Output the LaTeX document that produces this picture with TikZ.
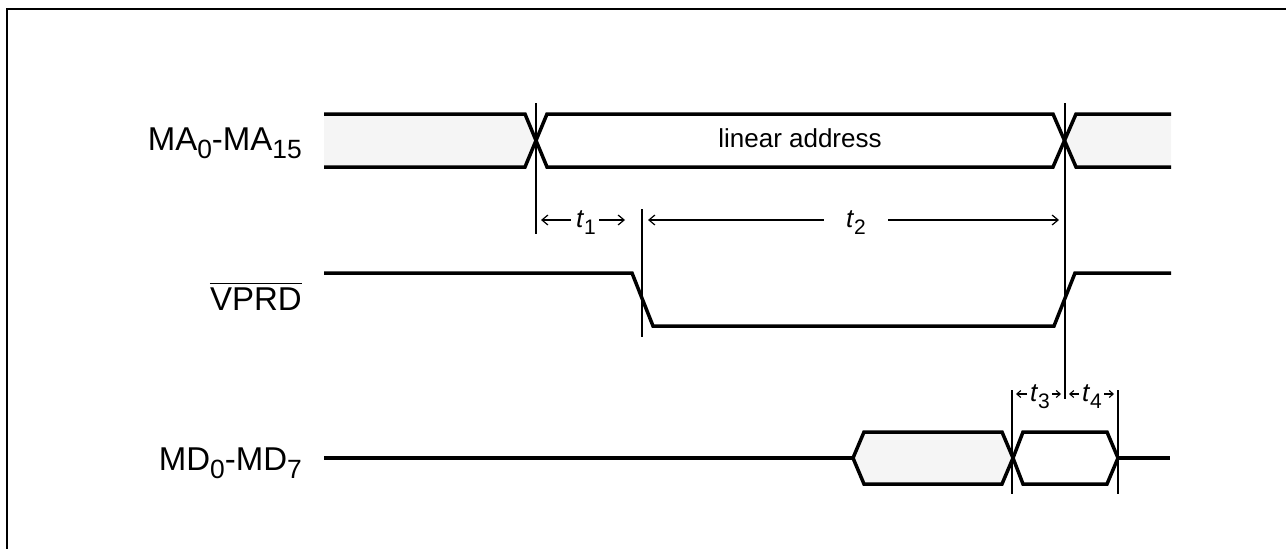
\documentclass[tikz,border=0pt]{standalone}
\usepackage{fontspec}
\setmainfont{Liberation Sans}
\usetikzlibrary{arrows.meta}
\definecolor{busgray}{HTML}{F5F5F5}
\newcommand{\lsub}[1]{\raisebox{-0.27em}{\fontsize{26.4}{28}\selectfont #1}}
\newcommand{\tsub}[1]{\raisebox{-0.27em}{\fontsize{21}{23}\selectfont #1}}
\newcommand{\tlab}[1]{\fontsize{26}{28}\selectfont\textit{t}\tsub{#1}}
\begin{document}
\begin{tikzpicture}[x=1pt,y=-1pt,
  sig/.style={line width=3.5pt,line join=miter},
  mark line/.style={line width=1.4pt},
  frame line/.style={line width=2.4pt},
  siglabel/.style={inner sep=0pt,anchor=base east,font=\fontsize{33}{36}\selectfont},
  tlabel/.style={inner sep=0pt,anchor=center},
  dimarrow/.style={line width=1.2pt,-{Straight Barb[length=6pt,width=10pt,line width=1.2pt]}},
  smallarrow/.style={line width=1.1pt,-{Straight Barb[length=4pt,width=7pt,line width=1.1pt]}}]
\useasboundingbox (0,0) rectangle (1286,549);
% frame
\draw[frame line] (7,549) -- (7,9) -- (1286,9);

% labels
\node[siglabel] (ma) at (302,150) {MA\lsub{0}-MA\lsub{15}};
\node[siglabel] (vprd) at (302,310) {VPRD};
\draw[line width=1.5pt] ([yshift=3.5pt]vprd.north west) -- ([yshift=3.5pt]vprd.north east);
\node[siglabel] (md) at (302,470) {MD\lsub{0}-MD\lsub{7}};

% MA bus
\fill[busgray] (324,114) -- (525,114) -- (536,140.5) -- (525,167) -- (324,167) -- cycle;
\fill[busgray] (1171,114) -- (1076,114) -- (1064.5,140.5) -- (1076,167) -- (1171,167) -- cycle;
\draw[sig] (324,114) -- (525,114) -- (547,167) -- (1053,167) -- (1076,114) -- (1171,114);
\draw[sig] (324,167) -- (525,167) -- (547,114) -- (1053,114) -- (1076,167) -- (1171,167);
\node[inner sep=0pt,anchor=base,font=\fontsize{26}{28}\selectfont] (la) at (800,147) {linear address};

% VPRD
\draw[sig] (324,273) -- (632,273) -- (653,326) -- (1054,326) -- (1075,273) -- (1171,273);

% MD bus
\draw[sig] (324,458) -- (853,458);
\draw[sig,fill=busgray] (853,458) -- (864,432) -- (1002,432) -- (1013,458) -- (1002,484) -- (864,484) -- cycle;
\draw[sig,fill=white] (1013,458) -- (1023,432) -- (1107,432) -- (1118,458) -- (1107,484) -- (1023,484) -- cycle;
\draw[sig] (1118,458) -- (1170,458);

% timing marker lines
\coordinate (v1t) at (536,103); \coordinate (v1b) at (536,234);
\coordinate (v2t) at (642,209); \coordinate (v2b) at (642,337);
\coordinate (v3t) at (1065,103); \coordinate (v3b) at (1065,399);
\coordinate (v4t) at (1012,390); \coordinate (v4b) at (1012,494);
\coordinate (v5t) at (1118,390); \coordinate (v5b) at (1118,494);
\draw[mark line] (v1t) -- (v1b);
\draw[mark line] (v2t) -- (v2b);
\draw[mark line] (v3t) -- (v3b);
\draw[mark line] (v4t) -- (v4b);
\draw[mark line] (v5t) -- (v5b);

% t1, t2
\node[tlabel] (t1) at (586,223) {\tlab{1}};
\node[tlabel] (t2) at (856,223) {\tlab{2}};
\coordinate (a1l) at (541,220); \coordinate (a1r) at (625,220);
\coordinate (a2l) at (648,220); \coordinate (a2r) at (1059,220);
\draw[dimarrow] (t1.west |- a1l) ++(-5,0) coordinate (t1w) -- (a1l);
\draw[dimarrow] (t1.east |- a1r) ++(3,0) coordinate (t1e) -- (a1r);
\draw[dimarrow] (t2.west |- a2l) ++(-22,0) coordinate (t2w) -- (a2l);
\draw[dimarrow] (t2.east |- a2r) ++(22,0) coordinate (t2e) -- (a2r);

% t3, t4
\node[tlabel] (t3) at (1040,397) {\tlab{3}};
\node[tlabel] (t4) at (1092,397) {\tlab{4}};
\coordinate (a3l) at (1016,394); \coordinate (a3r) at (1061,394);
\coordinate (a4l) at (1069,394); \coordinate (a4r) at (1114,394);
\draw[smallarrow] (1027,394) coordinate (t3w) -- (a3l);
\draw[smallarrow] (1052,394) coordinate (t3e) -- (a3r);
\draw[smallarrow] (1079,394) coordinate (t4w) -- (a4l);
\draw[smallarrow] (1104,394) coordinate (t4e) -- (a4r);
\end{tikzpicture}
\end{document}
